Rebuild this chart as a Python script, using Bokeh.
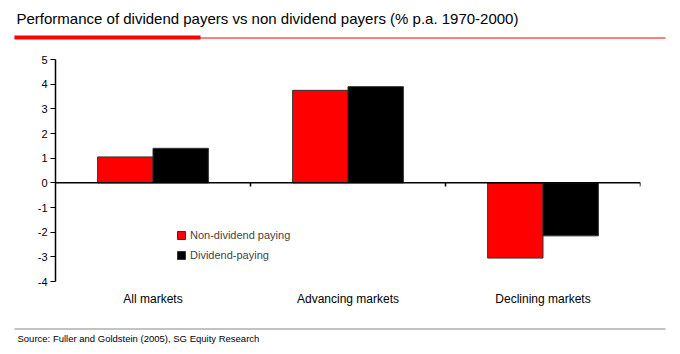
from bokeh.plotting import figure
from bokeh.layouts import column, row
from bokeh.models import (FactorRange, Range1d, Span, Label, BoxAnnotation, Legend,
                          LegendItem, FixedTicker, ColumnDataSource)
from bokeh.transform import dodge
from bokeh.embed import file_html
from bokeh.resources import INLINE

categories = ["All markets", "Advancing markets", "Declining markets"]
non_dividend = [1.05, 3.75, -3.05]
dividend = [1.4, 3.9, -2.15]
y_ticks = [-4, -3, -2, -1, 0, 1, 2, 3, 4, 5]

title_text = "Performance of dividend payers vs non dividend payers (% p.a. 1970-2000)"
source_text = "Source: Fuller and Goldstein (2005), SG Equity Research"

FONT = "Liberation Sans"
W = 680
HEAD_H, MAIN_H, FOOT_H = 49, 271, 34


def strip(height):
    f = figure(width=W, height=height, x_range=Range1d(0, W), y_range=Range1d(height, 0),
               output_backend="svg", toolbar_location=None, min_border=0,
               x_axis_location=None, y_axis_location=None)
    f.grid.visible = False
    f.outline_line_color = None
    return f


def rule(x0, x1, y0, y1, color):
    return BoxAnnotation(left=x0, right=x1, top=y0, bottom=y1, fill_color=color,
                         fill_alpha=1, line_color=None)


# header: title and red rules
head = strip(HEAD_H)
head.add_layout(Label(x=16, y=18, text=title_text, text_font=FONT, text_font_size="15px",
                      text_color="black", text_baseline="middle"))
head.add_layout(rule(14, 665, 37, 38, "#ff0000"))
head.add_layout(rule(14, 200, 35, 39, "#ff0000"))

# main chart
src = ColumnDataSource(dict(cat=categories, nd=non_dividend, d=dividend))

p = figure(width=W, height=MAIN_H, x_range=FactorRange(*categories, range_padding=0),
           y_range=Range1d(-4, 5), output_backend="svg", toolbar_location=None,
           min_border_left=55, min_border_right=40, min_border_top=10,
           min_border_bottom=39)
p.outline_line_color = None
p.xgrid.visible = False
p.ygrid.visible = False

r1 = p.vbar(x=dodge("cat", -0.142, range=p.x_range), top="nd", bottom=0, width=0.284,
            source=src, fill_color="#ff0000", line_color="#333333", line_width=1)
r2 = p.vbar(x=dodge("cat", 0.142, range=p.x_range), top="d", bottom=0, width=0.284,
            source=src, fill_color="#000000", line_color="#333333", line_width=1)

p.add_layout(Span(location=0, dimension="width", line_color="black", line_width=1.5))
bx = [float(i + 1) for i in range(len(categories))]
p.segment(x0=bx, x1=bx, y0=[0] * len(bx), y1=[-0.15] * len(bx), line_color="black",
          line_width=1.5)

p.yaxis.ticker = FixedTicker(ticks=y_ticks)
p.yaxis.major_label_overrides = {t: str(t) for t in y_ticks}
p.yaxis.axis_line_color = "black"
p.yaxis.axis_line_width = 1.5
p.yaxis.major_tick_in = 0
p.yaxis.major_tick_out = 5
p.yaxis.major_tick_line_color = "black"
p.yaxis.minor_tick_line_color = None
p.yaxis.major_label_text_font = FONT
p.yaxis.major_label_text_font_size = "11px"
p.yaxis.major_label_text_color = "black"
p.yaxis.major_label_standoff = 3

p.xaxis.axis_line_color = None
p.xaxis.major_tick_line_color = None
p.xaxis.minor_tick_line_color = None
p.xaxis.major_label_text_font = FONT
p.xaxis.major_label_text_font_size = "12px"
p.xaxis.major_label_text_color = "black"
p.xaxis.major_label_standoff = 4

legend = Legend(items=[LegendItem(label="Non-dividend paying", renderers=[r1]),
                       LegendItem(label="Dividend-paying", renderers=[r2])],
                location=(121, 20), border_line_color=None, background_fill_alpha=0,
                label_text_font=FONT, label_text_font_size="11px", glyph_width=10,
                glyph_height=10, label_height=12, spacing=8, padding=2, margin=0,
                label_standoff=4)
p.add_layout(legend, "center")

# footer: grey rule and source
foot = strip(FOOT_H)
foot.add_layout(rule(14, 665, 8, 9, "#888888"))
foot.add_layout(Label(x=17, y=18, text=source_text, text_font=FONT, text_font_size="9.5px",
                      text_color="black", text_baseline="middle"))

layout = column(row(head), row(p), row(foot), spacing=0)
open("out.html", "w").write(file_html(layout, INLINE))
